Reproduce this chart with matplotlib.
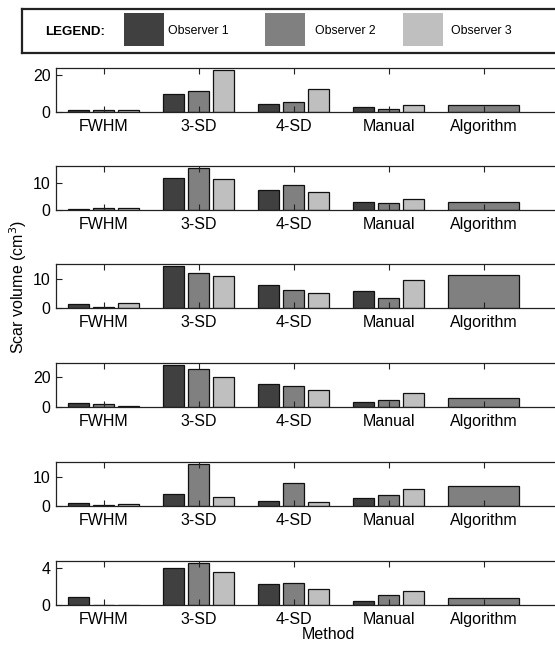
import numpy as np
import matplotlib
matplotlib.use('Agg')
import matplotlib.pyplot as plt
from matplotlib.patches import Rectangle

plt.rcParams['font.family'] = ['Liberation Sans', 'DejaVu Sans']

methods = ['FWHM', '3-SD', '4-SD', 'Manual', 'Algorithm']
observers = ['Observer 1', 'Observer 2', 'Observer 3']
colors = ['#404040', '#808080', '#bfbfbf']

# values for FWHM, 3-SD, 4-SD, Manual (per observer) and Algorithm, one row per patient
obs1 = [[0.8, 9.8, 4.5, 2.7],
        [0.3, 12.2, 7.5, 3.0],
        [1.4, 14.1, 7.8, 5.9],
        [2.6, 27.6, 15.0, 3.7],
        [1.0, 4.1, 1.9, 2.8],
        [0.95, 4.05, 2.3, 0.44]]
obs2 = [[0.8, 11.5, 5.3, 1.4],
        [0.8, 15.9, 9.6, 2.6],
        [0.3, 11.9, 6.1, 3.3],
        [2.4, 25.0, 13.7, 4.6],
        [0.6, 14.6, 8.1, 3.9],
        [0.08, 4.6, 2.4, 1.16]]
obs3 = [[0.8, 23.0, 12.4, 3.5],
        [0.8, 11.8, 6.7, 4.2],
        [1.7, 10.8, 5.3, 9.4],
        [0.9, 19.6, 11.1, 9.5],
        [0.9, 3.3, 1.6, 5.9],
        [0.08, 3.64, 1.8, 1.6]]
algorithm = [3.5, 3.2, 11.1, 5.9, 6.9, 0.77]

ytops = [24.2, 16.4, 14.8, 28.8, 15.2, 4.77]
yticks = [[0, 20], [0, 10], [0, 10], [0, 20], [0, 10], [0, 4]]

W, H = 555, 646
fig = plt.figure(figsize=(W / 100, H / 100), dpi=100)

left = 56
right = 600
unit = 95.0  # px per category
bottoms = [111.7, 210.3, 308.3, 407.3, 506.3, 605.3]
ax_h = 44.0

x = np.arange(1, 6)
bw = 0.22
offs = [-0.263, 0.0, 0.263]

axes = []
for i in range(6):
    ax = fig.add_axes([left / W, 1 - bottoms[i] / H, (right - left) / W, ax_h / H])
    vals = [obs1[i], obs2[i], obs3[i]]
    for k in range(3):
        ax.bar(x[:4] + offs[k], vals[k], bw, color=colors[k],
               edgecolor='#111111', linewidth=0.9)
    ax.bar(x[4], algorithm[i], 0.75, color=colors[1],
           edgecolor='#111111', linewidth=0.9)
    ax.set_xlim(0.5, 0.5 + (right - left) / unit)
    ax.set_ylim(0, ytops[i])
    ax.set_yticks(yticks[i])
    ax.set_xticks(x)
    ax.set_xticklabels(methods)
    ax.tick_params(direction='in', length=4, width=0.8, labelsize=11.5,
                   top=True, right=False, pad=4, colors='#222222',
                   labelcolor='black')
    ax.tick_params(axis='x', pad=5)
    for s in ['left', 'top', 'bottom']:
        ax.spines[s].set_linewidth(0.9)
        ax.spines[s].set_color('#222222')
    ax.spines['right'].set_visible(False)
    axes.append(ax)

axes[-1].set_xlabel('Method', fontsize=11.5, labelpad=0)
fig.text(18 / W, 1 - 287 / H, 'Scar volume (cm$^3$)', rotation=90,
         ha='center', va='center', fontsize=11.5)

# legend box
lg = fig.add_axes([22 / W, 1 - 53 / H, (565 - 22) / W, 44 / H])
lg.set_xticks([])
lg.set_yticks([])
lg.set_xlim(0, 1)
lg.set_ylim(0, 1)
for s in lg.spines.values():
    s.set_linewidth(1.6)
    s.set_color('#222222')
lg.text(0.043, 0.48, 'LEGEND:', fontsize=9.6, fontweight='bold',
        va='center', ha='left')
patch_x = [0.188, 0.448, 0.702]
text_x = [0.268, 0.54, 0.79]
for k in range(3):
    lg.add_patch(Rectangle((patch_x[k], 0.16), 0.074, 0.75,
                           facecolor=colors[k], edgecolor='none'))
    lg.text(text_x[k], 0.5, observers[k], fontsize=8.8, va='center', ha='left')

fig.savefig('out.png', dpi=100)
